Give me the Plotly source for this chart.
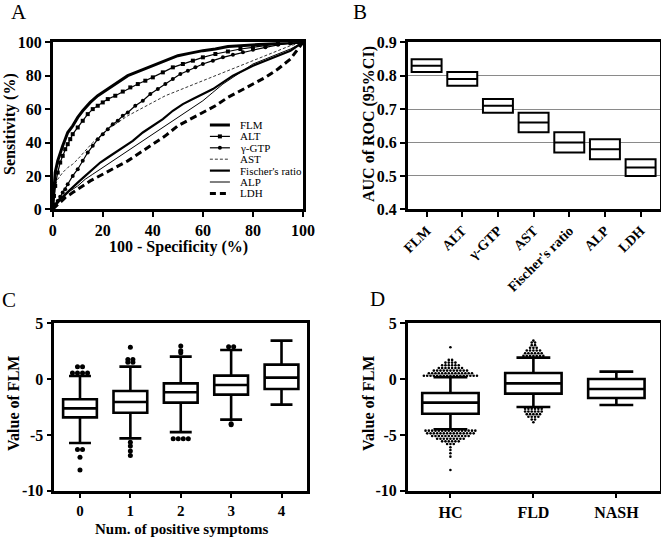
import plotly.graph_objects as go

W, H = 661, 537
SERIF = "Liberation Serif"

# ---- A: ROC curves, x = 100 - specificity (%), y = sensitivity (%)
roc_names = ["FLM", "ALT", "γ-GTP", "AST", "Fischer's ratio", "ALP", "LDH"]
flm_x = [0, 0.5, 1, 2, 3, 4, 5, 6, 8, 10, 12, 15, 18, 20, 25, 30, 35, 40, 45, 50, 55, 60, 65, 70, 75, 80, 85, 90, 95, 100]
flm_y = [0, 14, 22, 29, 34, 38, 42, 46, 50, 55, 59, 64, 68, 70, 75, 80, 83, 86, 89, 92, 93.5, 95, 96, 97.5, 98, 98.5, 99, 99.5, 99.8, 100]
alt_x = [0, 0.5, 1, 2, 3, 4, 5, 6, 7, 8, 10, 12, 14, 16, 18, 20, 22, 25, 28, 31, 34, 37, 40, 44, 48, 52, 56, 60, 65, 70, 75, 80, 85, 90, 95, 100]
alt_y = [0, 8, 14, 22, 28, 32, 36, 39, 42, 45, 49, 53, 57, 60, 62, 64, 66, 68, 70.5, 73, 75, 77, 79, 82, 85, 87, 89, 91, 93, 94.5, 96, 97, 98, 99, 99.5, 100]
ggt_x = [0, 1, 2, 3, 4, 5, 6, 8, 10, 12, 14, 16, 18, 20, 22, 24, 26, 28, 30, 33, 36, 39, 42, 45, 48, 51, 54, 57, 60, 64, 68, 72, 76, 80, 85, 90, 95, 100]
ggt_y = [0, 3, 5, 7.5, 10, 12, 15, 20, 24, 29, 34, 38, 42, 45, 48, 51, 53, 56, 58, 62, 65, 69, 72, 75, 78, 81, 83, 85, 87, 89, 91, 92.5, 94, 95.5, 97, 98.5, 99.5, 100]
ast_x = [0, 0.5, 1, 2, 4, 6, 8, 10, 13, 16, 19, 22, 26, 30, 35, 40, 45, 50, 55, 60, 65, 70, 75, 80, 85, 90, 95, 100]
ast_y = [0, 10, 14, 18, 22, 25, 27, 30, 35, 40, 44, 48, 52, 56, 60, 64, 68, 71, 74, 77, 80, 83, 86, 89, 92, 95, 98, 100]
fis_x = [0, 1, 2, 3, 5, 7, 10, 13, 16, 19, 22, 25, 28, 32, 36, 40, 44, 48, 52, 56, 60, 64, 68, 72, 76, 80, 85, 90, 95, 100]
fis_y = [0, 2, 4, 6, 9, 12, 16, 20, 24, 28, 31, 34, 37, 41, 46, 50, 54, 59, 63, 66, 69, 72, 76, 80, 83, 86, 89, 92, 95, 100]
alp_x = [0, 1, 2, 3, 5, 7, 10, 13, 16, 19, 22, 25, 28, 32, 36, 40, 44, 48, 52, 56, 60, 64, 68, 72, 76, 80, 85, 90, 95, 100]
alp_y = [0, 2, 4, 5.5, 8, 11, 14, 18, 21, 24, 27, 30, 33, 37, 41, 45, 49, 53, 57, 61, 65, 70, 75, 79, 83, 87, 90, 93, 96, 100]
ldh_x = [0, 2, 5, 8, 10, 15, 20, 25, 30, 35, 40, 45, 50, 55, 60, 65, 70, 75, 80, 85, 90, 95, 100]
ldh_y = [0, 3, 7, 10, 12, 17, 21, 25, 29, 34, 39, 44, 50, 54, 58, 62, 67, 71, 75, 79, 84, 90, 100]

# ---- B: AUC of ROC with 95% CI
auc_labels = ["FLM", "ALT", "γ-GTP", "AST", "Fischer's ratio", "ALP", "LDH"]
auc_mid = [0.83, 0.79, 0.71, 0.66, 0.60, 0.58, 0.525]
auc_low = [0.811, 0.770, 0.689, 0.631, 0.570, 0.550, 0.500]
auc_high = [0.849, 0.811, 0.730, 0.689, 0.631, 0.610, 0.550]

# ---- C: FLM by number of positive symptoms
sym_labels = ["0", "1", "2", "3", "4"]
sym_q1 = [-3.43, -3.01, -2.11, -1.39, -0.89]
sym_med = [-2.62, -2.05, -1.18, -0.53, 0.13]
sym_q3 = [-1.81, -1.07, -0.38, 0.31, 1.30]
sym_lo = [-5.73, -5.31, -4.75, -3.63, -2.29]
sym_hi = [0.28, 1.12, 2.01, 2.61, 3.45]
# outliers: value of each row and how many dots sit in it
sym_out_vals = [[1.1, 0.55, -6.3, -7.0, -8.15],
                [2.85, 1.75, 1.5, -5.65, -6.0, -6.45, -6.85],
                [2.97, 2.55, 2.35, -5.35],
                [2.9, -4.0, -4.1],
                []]
sym_out_counts = [[2, 4, 2, 1, 1],
                  [1, 2, 2, 1, 1, 1, 1],
                  [1, 1, 1, 4],
                  [2, 1, 1],
                  []]

# ---- D: FLM by group
grp_labels = ["HC", "FLD", "NASH"]
grp_q1 = [-3.10, -1.30, -1.69]
grp_med = [-2.11, -0.38, -0.89]
grp_q3 = [-1.24, 0.55, 0.01]
grp_lo = [-4.50, -2.50, -2.32]
grp_hi = [0.16, 1.92, 0.67]
grp_out_vals = [[2.85, 1.72, 1.48, 1.24, 1.0, 0.76, 0.52, 0.3,
                 -4.62, -4.86, -5.1, -5.34, -5.58, -5.82, -6.1, -6.35, -6.65, -6.95, -8.15],
                [3.45, 3.28, 3.04, 2.8, 2.56, 2.32, 2.08,
                 -2.66, -2.9, -3.14, -3.38, -3.62, -3.86],
                []]
grp_out_counts = [[1, 2, 4, 6, 8, 11, 14, 17,
                   16, 15, 12, 9, 6, 3, 1, 1, 1, 1, 1],
                  [1, 2, 2, 3, 5, 6, 7,
                   6, 6, 5, 4, 2, 1],
                  []]


def px_to_dom(a, b, total):
    return [a / total, b / total]


def spread(centers, vals, counts, step):
    xs, ys = [], []
    for c, vv, cc in zip(centers, vals, counts):
        for v, n in zip(vv, cc):
            for i in range(n):
                xs.append(c + (i - (n - 1) / 2) * step)
                ys.append(v)
    return xs, ys


fig = go.Figure()

# A
roc = [(flm_x, flm_y, dict(width=3), None),
       (alt_x, alt_y, dict(width=1.2), dict(symbol="square", size=4)),
       (ggt_x, ggt_y, dict(width=1.2), dict(symbol="circle", size=4)),
       (ast_x, ast_y, dict(width=0.8, dash="3px,2px"), None),
       (fis_x, fis_y, dict(width=2.2), None),
       (alp_x, alp_y, dict(width=1), None),
       (ldh_x, ldh_y, dict(width=3, dash="7px,4px"), None)]
for name, (xs, ys, ln, mk) in zip(roc_names, roc):
    fig.add_trace(go.Scatter(x=xs, y=ys, name=name, mode="lines+markers" if mk else "lines",
                             line=dict(color="black", **ln), marker=dict(color="black", **(mk or {})),
                             xaxis="x", yaxis="y", cliponaxis=False))

# B
fig.add_trace(go.Box(x=list(range(len(auc_labels))), q1=auc_low, median=auc_mid, q3=auc_high,
                     lowerfence=auc_low, upperfence=auc_high, width=0.84, whiskerwidth=0,
                     line=dict(color="black", width=2), fillcolor="white", boxpoints=False,
                     xaxis="x2", yaxis="y2"))

# C
fig.add_trace(go.Box(x=list(range(len(sym_labels))), q1=sym_q1, median=sym_med, q3=sym_q3,
                     lowerfence=sym_lo, upperfence=sym_hi, width=0.67, whiskerwidth=0.65,
                     line=dict(color="black", width=2.6), fillcolor="white", boxpoints=False,
                     xaxis="x3", yaxis="y3"))
cx, cy = spread(range(len(sym_labels)), sym_out_vals, sym_out_counts, 0.1)
fig.add_trace(go.Scatter(x=cx, y=cy, mode="markers", marker=dict(color="black", size=5),
                         xaxis="x3", yaxis="y3"))

# D
fig.add_trace(go.Box(x=list(range(len(grp_labels))), q1=grp_q1, median=grp_med, q3=grp_q3,
                     lowerfence=grp_lo, upperfence=grp_hi, width=0.68, whiskerwidth=0.6,
                     line=dict(color="black", width=2.6), fillcolor="white", boxpoints=False,
                     xaxis="x4", yaxis="y4"))
dx, dy = spread(range(len(grp_labels)), grp_out_vals, grp_out_counts, 0.04)
fig.add_trace(go.Scatter(x=dx, y=dy, mode="markers", marker=dict(color="black", size=2.6),
                         xaxis="x4", yaxis="y4"))

tick_font = dict(family=SERIF, size=16, color="black", weight="bold")
ax = dict(showline=True, linewidth=2.5, linecolor="black", mirror=True, ticks="outside",
          ticklen=5, tickwidth=2, tickcolor="black", tickfont=tick_font, zeroline=False,
          showgrid=False, automargin=False)

fig.update_layout(
    width=W, height=H, margin=dict(l=0, r=0, t=0, b=0), showlegend=False,
    plot_bgcolor="white", paper_bgcolor="white",
    xaxis=dict(ax, domain=px_to_dom(52.7, 303, W), range=[0, 100], tickvals=[0, 20, 40, 60, 80, 100], anchor="y"),
    yaxis=dict(ax, domain=[1 - 209.3 / H, 1 - 42.3 / H], range=[0, 100], tickvals=[0, 20, 40, 60, 80, 100], anchor="x"),
    xaxis2=dict(ax, domain=px_to_dom(407.7, 659.5, W), range=[-0.53, 6.53], tickvals=list(range(7)),
                ticktext=auc_labels, tickangle=-45, tickfont=dict(tick_font, size=14), anchor="y2"),
    yaxis2=dict(ax, domain=[1 - 209.3 / H, 1 - 42.3 / H], range=[0.4, 0.9], tickvals=[0.4, 0.5, 0.6, 0.7, 0.8, 0.9],
                ticktext=["0.4", "0.5", "0.6", "0.7", "0.8", "0.9"], showgrid=True, gridcolor="#8a8a8a",
                gridwidth=1, anchor="x2"),
    xaxis3=dict(ax, domain=px_to_dom(54.3, 306.7, W), range=[-0.51, 4.5], tickvals=list(range(5)),
                ticktext=sym_labels, tickfont=dict(tick_font, size=15), anchor="y3"),
    yaxis3=dict(ax, domain=[1 - 490.7 / H, 1 - 323.3 / H], range=[-10, 5], tickvals=[-10, -5, 0, 5],
                ticktext=["-10", "-5", "0", "5"], anchor="x3"),
    xaxis4=dict(ax, domain=px_to_dom(407.7, 659.5, W), range=[-0.515, 2.52], tickvals=list(range(3)),
                ticktext=grp_labels, anchor="y4"),
    yaxis4=dict(ax, domain=[1 - 490.7 / H, 1 - 323.3 / H], range=[-10, 5], tickvals=[-10, -5, 0, 5],
                ticktext=["-10", "-5", "0", "5"], anchor="x4"),
)

# axis titles and panel letters
title_font = dict(family=SERIF, size=16, color="black")
notes = [
    ("<b>100 - Specificity (%)</b>", 178, 247, 0, 16),
    ("<b>Sensitivity (%)</b>", 10, 124, -90, 16),
    ("<b>AUC of ROC (95%CI)</b>", 369, 124, -90, 16),
    ("<b>Value of FLM</b>", 13, 404, -90, 16),
    ("<b>Num. of positive symptoms</b>", 181, 529, 0, 15),
    ("<b>Value of FLM</b>", 368, 404, -90, 16),
]
for text, px, py, ang, fs in notes:
    fig.add_annotation(text=text, x=px / W, y=1 - py / H, xref="paper", yref="paper",
                       showarrow=False, textangle=ang, font=dict(title_font, size=fs),
                       xanchor="center", yanchor="middle")
for letter, px, py in [("A", 19, 12), ("B", 360, 12), ("C", 9, 300), ("D", 377, 299)]:
    fig.add_annotation(text=letter, x=px / W, y=1 - py / H, xref="paper", yref="paper", showarrow=False,
                       font=dict(family=SERIF, size=21, color="black"), xanchor="center", yanchor="middle")

# legend of panel A, drawn inside the plot area
leg_styles = [dict(width=3), dict(width=1.2), dict(width=1.2), dict(width=0.8, dash="3px,2px"),
              dict(width=2.2), dict(width=1), dict(width=3, dash="6px,4px")]
x0, x1, xt = 0.628, 0.708, 0.74
for i, (name, st) in enumerate(zip(roc_names, leg_styles)):
    yy = 1 - (125 + 11.4 * i - 42.3) / 167
    fig.add_shape(type="line", xref="x domain", yref="y domain", x0=x0, x1=x1, y0=yy, y1=yy,
                  line=dict(color="black", **st))
    if i == 1:
        fig.add_shape(type="rect", xref="x domain", yref="y domain", x0=0.660, x1=0.676,
                      y0=yy - 0.012, y1=yy + 0.012, fillcolor="black", line=dict(width=0))
    if i == 2:
        fig.add_shape(type="circle", xref="x domain", yref="y domain", x0=0.660, x1=0.676,
                      y0=yy - 0.012, y1=yy + 0.012, fillcolor="black", line=dict(width=0))
    fig.add_annotation(text=name, xref="x domain", yref="y domain", x=xt, y=yy, showarrow=False,
                       xanchor="left", yanchor="middle", font=dict(family=SERIF, size=11, color="black"))

# the page is exactly the figure size, so drop the default body margin
fig.write_html("out.html", config={"displayModeBar": False},
               post_script="document.body.style.margin='0';document.body.style.overflow='hidden';")
